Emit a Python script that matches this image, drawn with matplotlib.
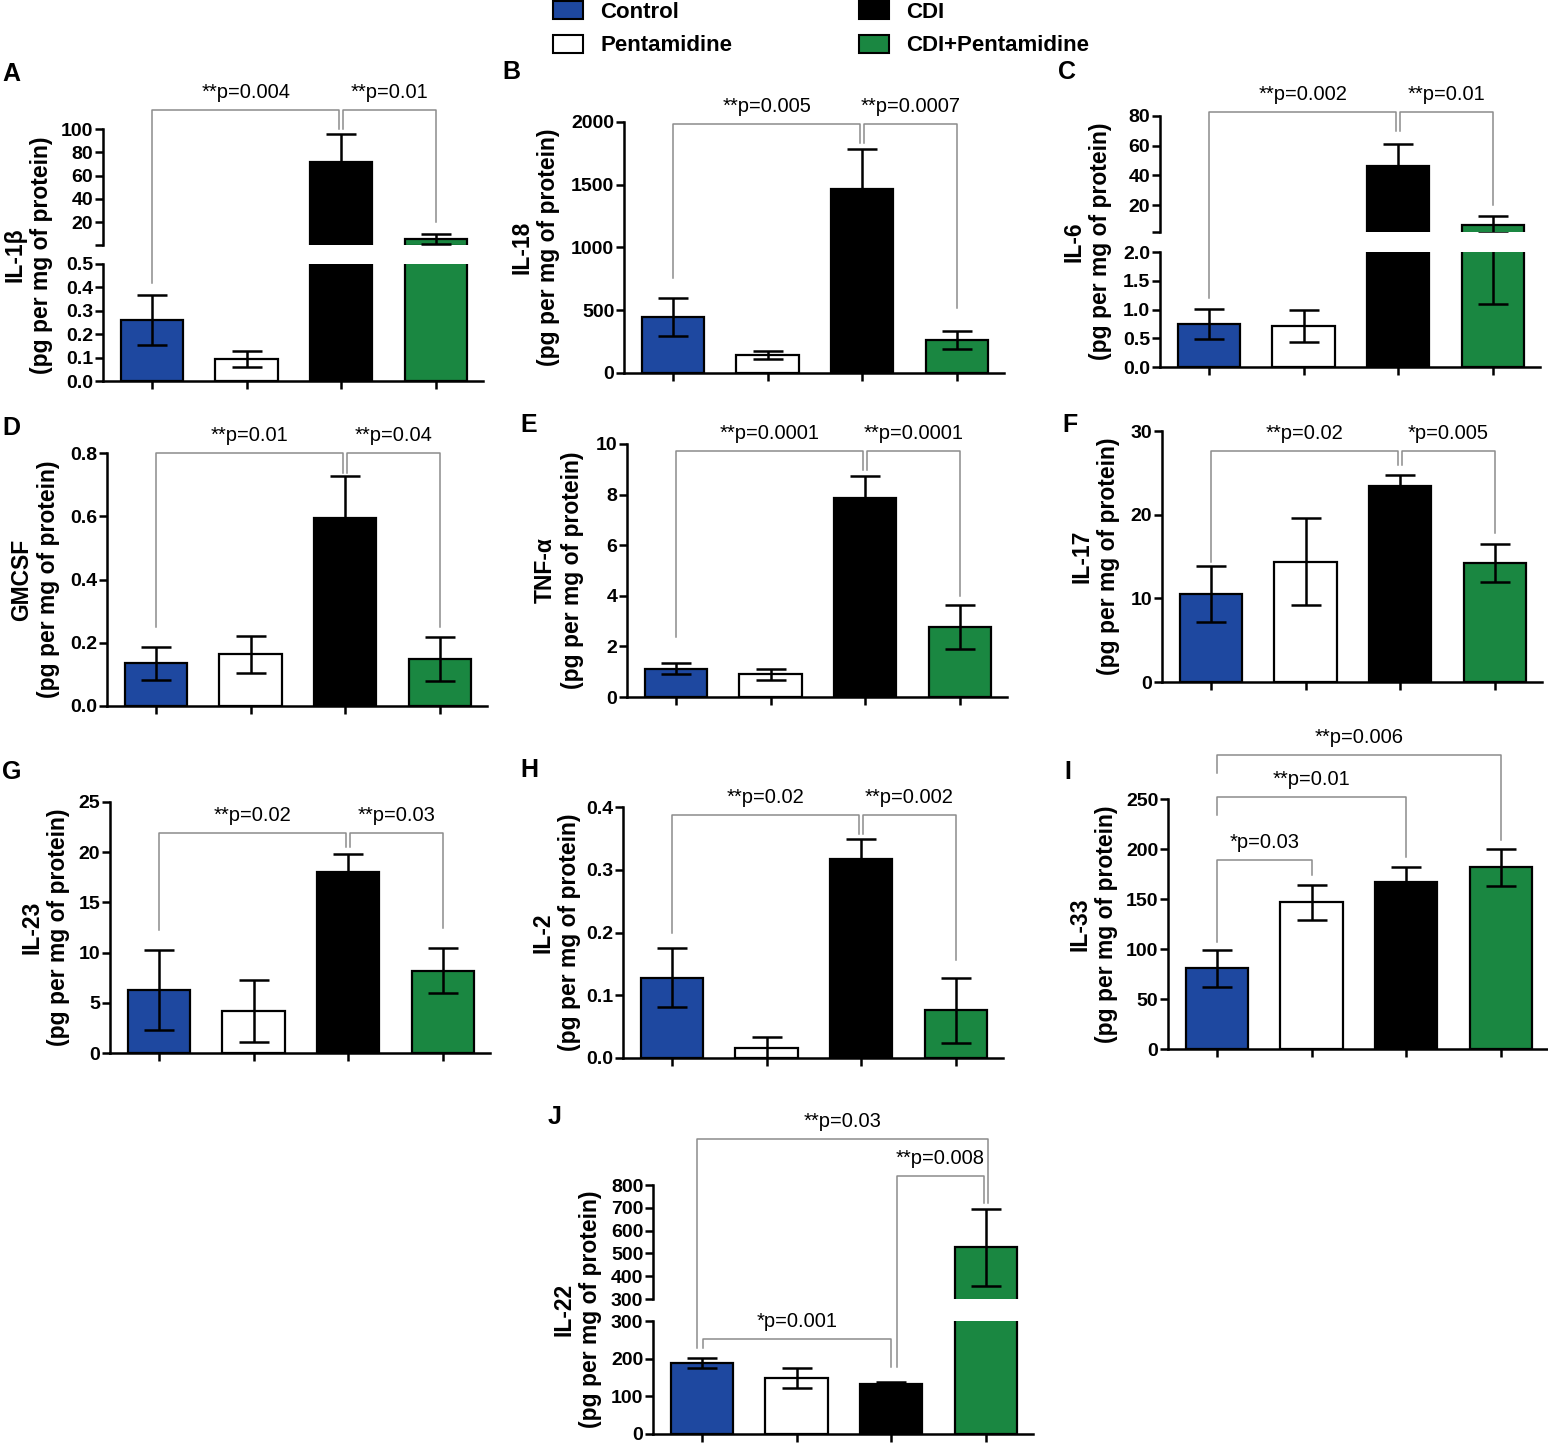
import matplotlib
matplotlib.use('Agg')
import matplotlib.pyplot as plt
from matplotlib.lines import Line2D
from matplotlib.patches import Patch

plt.rcParams['font.family'] = ['Liberation Sans', 'DejaVu Sans']

# groups and colours
groups = ['Control', 'Pentamidine', 'CDI', 'CDI+Pentamidine']
bar_colors = ['#1E48A0', 'white', 'black', '#1A8741']

# mean and SEM per cytokine (pg per mg of protein)
il1b_mean = [0.26, 0.093, 72, 5.5]
il1b_sem = [0.107, 0.034, 24, 4.3]
il18_mean = [445, 143, 1468, 262]
il18_sem = [152, 32, 318, 72]
il6_mean = [0.75, 0.71, 46.5, 6.9]
il6_sem = [0.26, 0.28, 14.7, 5.8]
gmcsf_mean = [0.135, 0.163, 0.595, 0.149]
gmcsf_sem = [0.053, 0.058, 0.133, 0.07]
tnfa_mean = [1.11, 0.89, 7.85, 2.75]
tnfa_sem = [0.22, 0.23, 0.87, 0.87]
il17_mean = [10.5, 14.4, 23.4, 14.2]
il17_sem = [3.35, 5.2, 1.3, 2.3]
il23_mean = [6.3, 4.2, 18.0, 8.2]
il23_sem = [4.0, 3.1, 1.8, 2.25]
il2_mean = [0.128, 0.016, 0.317, 0.076]
il2_sem = [0.047, 0.018, 0.032, 0.052]
il33_mean = [81, 147, 167, 182]
il33_sem = [18.5, 17.5, 15, 18.5]
il22_mean = [188, 148, 133, 526]
il22_sem = [13, 27, 4, 168]

# comparison brackets: (bar i, bar j, bracket height, leg end i, leg end j, text, dx i, dx j)
il1b_brackets = [(0, 2, 116, 0.42, 100, '**p=0.004', 0, -0.02),
                 (2, 3, 116, 100, 20, '**p=0.01', 0.02, 0)]
il18_brackets = [(0, 2, 1984, 757, 1833, '**p=0.005', 0, -0.02),
                 (2, 3, 1984, 1833, 518, '**p=0.0007', 0.02, 0)]
il6_brackets = [(0, 2, 82.7, 1.2, 70, '**p=0.002', 0, -0.02),
                (2, 3, 82.7, 70, 20.2, '**p=0.01', 0.02, 0)]
gmcsf_brackets = [(0, 2, 0.8, 0.25, 0.737, '**p=0.01', 0, -0.02),
                  (2, 3, 0.8, 0.737, 0.25, '**p=0.04', 0.02, 0)]
tnfa_brackets = [(0, 2, 9.72, 2.37, 8.97, '**p=0.0001', 0, -0.02),
                 (2, 3, 9.72, 8.97, 3.99, '**p=0.0001', 0.02, 0)]
il17_brackets = [(0, 2, 27.6, 14.3, 25.9, '**p=0.02', 0, -0.02),
                 (2, 3, 27.6, 25.9, 17.8, '*p=0.005', 0.02, 0)]
il23_brackets = [(0, 2, 21.9, 12.3, 20.5, '**p=0.02', 0, -0.02),
                 (2, 3, 21.9, 20.5, 12.45, '**p=0.03', 0.02, 0)]
il2_brackets = [(0, 2, 0.387, 0.199, 0.357, '**p=0.02', 0, -0.02),
                (2, 3, 0.387, 0.357, 0.156, '**p=0.002', 0.02, 0)]
il33_brackets = [(0, 1, 189, 107, 174, '*p=0.03', 0, 0),
                 (0, 2, 252, 234, 192, '**p=0.01', 0, 0),
                 (0, 3, 294, 276, 209, '**p=0.006', 0, 0)]
il22_brackets = [(0, 2, 252, 228, 178, '*p=0.001', 0.01, 0),
                 (2, 3, 839, 178, 721, '**p=0.008', 0.06, -0.02),
                 (0, 3, 1002, 228, 721, '**p=0.03', -0.05, 0.02)]


def fmt1(vals):
    return ['%.1f' % v for v in vals]


def fmt0(vals):
    return ['%d' % v for v in vals]


# layout in pixels of the 1548x1444 canvas: (top, bottom, ymin, ymax, ticks, labels)
panels = [
    dict(letter='A', pos=(2, 62), name='IL-1\u03b2', mean=il1b_mean, sem=il1b_sem, br=il1b_brackets,
         left=103, label_x=28,
         lower=(264, 381, 0, 0.5, [0, 0.1, 0.2, 0.3, 0.4, 0.5], fmt1([0, 0.1, 0.2, 0.3, 0.4, 0.5])),
         upper=(129, 245, 0.5, 100, [0.5, 20, 40, 60, 80, 100], ['', '20', '40', '60', '80', '100'])),
    dict(letter='B', pos=(502, 60), name='IL-18', mean=il18_mean, sem=il18_sem, br=il18_brackets,
         left=624, label_x=535,
         lower=(122, 373, 0, 2000, [0, 500, 1000, 1500, 2000], fmt0([0, 500, 1000, 1500, 2000]))),
    dict(letter='C', pos=(1058, 60), name='IL-6', mean=il6_mean, sem=il6_sem, br=il6_brackets,
         left=1160, label_x=1087,
         lower=(252, 367, 0, 2.0, [0, 0.5, 1.0, 1.5, 2.0], fmt1([0, 0.5, 1.0, 1.5, 2.0])),
         upper=(116, 232, 2.0, 80, [2, 20, 40, 60, 80], ['', '20', '40', '60', '80'])),
    dict(letter='D', pos=(2, 416), name='GMCSF', mean=gmcsf_mean, sem=gmcsf_sem, br=gmcsf_brackets,
         left=107, label_x=35,
         lower=(453, 706, 0, 0.8, [0, 0.2, 0.4, 0.6, 0.8], fmt1([0, 0.2, 0.4, 0.6, 0.8]))),
    dict(letter='E', pos=(520, 413), name='TNF-\u03b1', mean=tnfa_mean, sem=tnfa_sem, br=tnfa_brackets,
         left=627, label_x=559,
         lower=(444, 697, 0, 10, [0, 2, 4, 6, 8, 10], fmt0([0, 2, 4, 6, 8, 10]))),
    dict(letter='F', pos=(1062, 413), name='IL-17', mean=il17_mean, sem=il17_sem, br=il17_brackets,
         left=1162, label_x=1095,
         lower=(431, 682, 0, 30, [0, 10, 20, 30], fmt0([0, 10, 20, 30]))),
    dict(letter='G', pos=(2, 760), name='IL-23', mean=il23_mean, sem=il23_sem, br=il23_brackets,
         left=110, label_x=45,
         lower=(802, 1053, 0, 25, [0, 5, 10, 15, 20, 25], fmt0([0, 5, 10, 15, 20, 25]))),
    dict(letter='H', pos=(520, 758), name='IL-2', mean=il2_mean, sem=il2_sem, br=il2_brackets,
         left=623, label_x=556,
         lower=(807, 1058, 0, 0.4, [0, 0.1, 0.2, 0.3, 0.4], fmt1([0, 0.1, 0.2, 0.3, 0.4]))),
    dict(letter='I', pos=(1064, 760), name='IL-33', mean=il33_mean, sem=il33_sem, br=il33_brackets,
         left=1168, label_x=1093,
         lower=(799, 1049, 0, 250, [0, 50, 100, 150, 200, 250], fmt0([0, 50, 100, 150, 200, 250]))),
    dict(letter='J', pos=(548, 1105), name='IL-22', mean=il22_mean, sem=il22_sem, br=il22_brackets,
         left=653, label_x=577,
         lower=(1321, 1434, 0, 300, [0, 100, 200, 300], fmt0([0, 100, 200, 300])),
         upper=(1185, 1299, 300, 800, [300, 400, 500, 600, 700, 800],
                fmt0([300, 400, 500, 600, 700, 800]))),
]

W, H = 1548, 1444
AX_W = 380
XLIM = (-0.52, 3.5)
BAR_W = 0.66
LW = 1.8
GREY = '#8c8c8c'

fig = plt.figure(figsize=(W / 100, H / 100), dpi=100)


def add_ax(left, top, bottom):
    return fig.add_axes([left / W, 1 - bottom / H, AX_W / W, (bottom - top) / H])


def draw_segment(left, seg, mean, sem, xaxis):
    top, bottom, y0, y1, ticks, labels = seg
    ax = add_ax(left, top, bottom)
    x = list(range(len(groups)))
    # an upper segment only shows the bars that reach above the break
    keep = [k for k in x if xaxis or mean[k] > y0]
    ax.bar(keep, [mean[k] for k in keep], width=BAR_W, color=[bar_colors[k] for k in keep],
           edgecolor='black', linewidth=1.6, zorder=2)
    ax.errorbar(keep, [mean[k] for k in keep], yerr=[sem[k] for k in keep], fmt='none',
                ecolor='black', elinewidth=LW, capsize=10.5, capthick=LW, zorder=3)
    ax.set_xlim(*XLIM)
    ax.set_ylim(y0, y1)
    ax.set_yticks(ticks)
    ax.set_yticklabels(labels, fontweight='bold')
    for s in ['top', 'right']:
        ax.spines[s].set_visible(False)
    ax.spines['left'].set_linewidth(LW)
    if xaxis:
        ax.spines['bottom'].set_linewidth(LW)
        ax.set_xticks(x)
        ax.set_xticklabels([])
    else:
        ax.spines['bottom'].set_visible(False)
        ax.set_xticks([])
    ax.tick_params(length=5.5, width=LW, pad=1.5, labelsize=14)
    ax.patch.set_alpha(0)
    return ax


def to_fig(p, x, v):
    ax = p['ax_up'] if (p['ax_up'] is not None and v > p['brk']) else p['ax_lo']
    disp = ax.transData.transform((x, v))
    return fig.transFigure.inverted().transform(disp)


for p in panels:
    p['ax_lo'] = draw_segment(p['left'], p['lower'], p['mean'], p['sem'], True)
    p['ax_up'] = None
    p['brk'] = p['lower'][3]
    if 'upper' in p:
        p['ax_up'] = draw_segment(p['left'], p['upper'], p['mean'], p['sem'], False)
        ytop = p['upper'][0]
    else:
        ytop = p['lower'][0]
    ybot = p['lower'][1]

    # y label spanning the whole (possibly broken) axis
    fig.text(p['label_x'] / W, 1 - (ytop + ybot) / 2 / H,
             p['name'] + '\n(pg per mg of protein)', rotation=90,
             ha='center', va='center', ma='center', fontsize=16.5, fontweight='bold')
    # panel letter
    fig.text(p['pos'][0] / W, 1 - p['pos'][1] / H, p['letter'], ha='left', va='top',
             fontsize=18, fontweight='bold')

    # significance brackets
    for i, j, top, ei, ej, txt, dxi, dxj in p['br']:
        pts = [to_fig(p, i + dxi, ei), to_fig(p, i + dxi, top),
               to_fig(p, j + dxj, top), to_fig(p, j + dxj, ej)]
        fig.add_artist(Line2D([q[0] for q in pts], [q[1] for q in pts],
                              transform=fig.transFigure, color=GREY, lw=1.1))
        fig.text((pts[1][0] + pts[2][0]) / 2, pts[1][1] + 12 / H, txt,
                 ha='center', va='baseline', fontsize=14.5)

# legend
handles = [Patch(facecolor=c, edgecolor='black', linewidth=1.5) for c in bar_colors]
fig.legend(handles, groups, loc='upper left', bbox_to_anchor=(553 / W, 1 - 1 / H),
           ncol=2, frameon=False, borderpad=0, borderaxespad=0,
           prop={'size': 16, 'weight': 'bold'}, handlelength=1.35, handleheight=0.85,
           handletextpad=0.77, columnspacing=5.7, labelspacing=0.55)

fig.savefig('out.png', dpi=100)
